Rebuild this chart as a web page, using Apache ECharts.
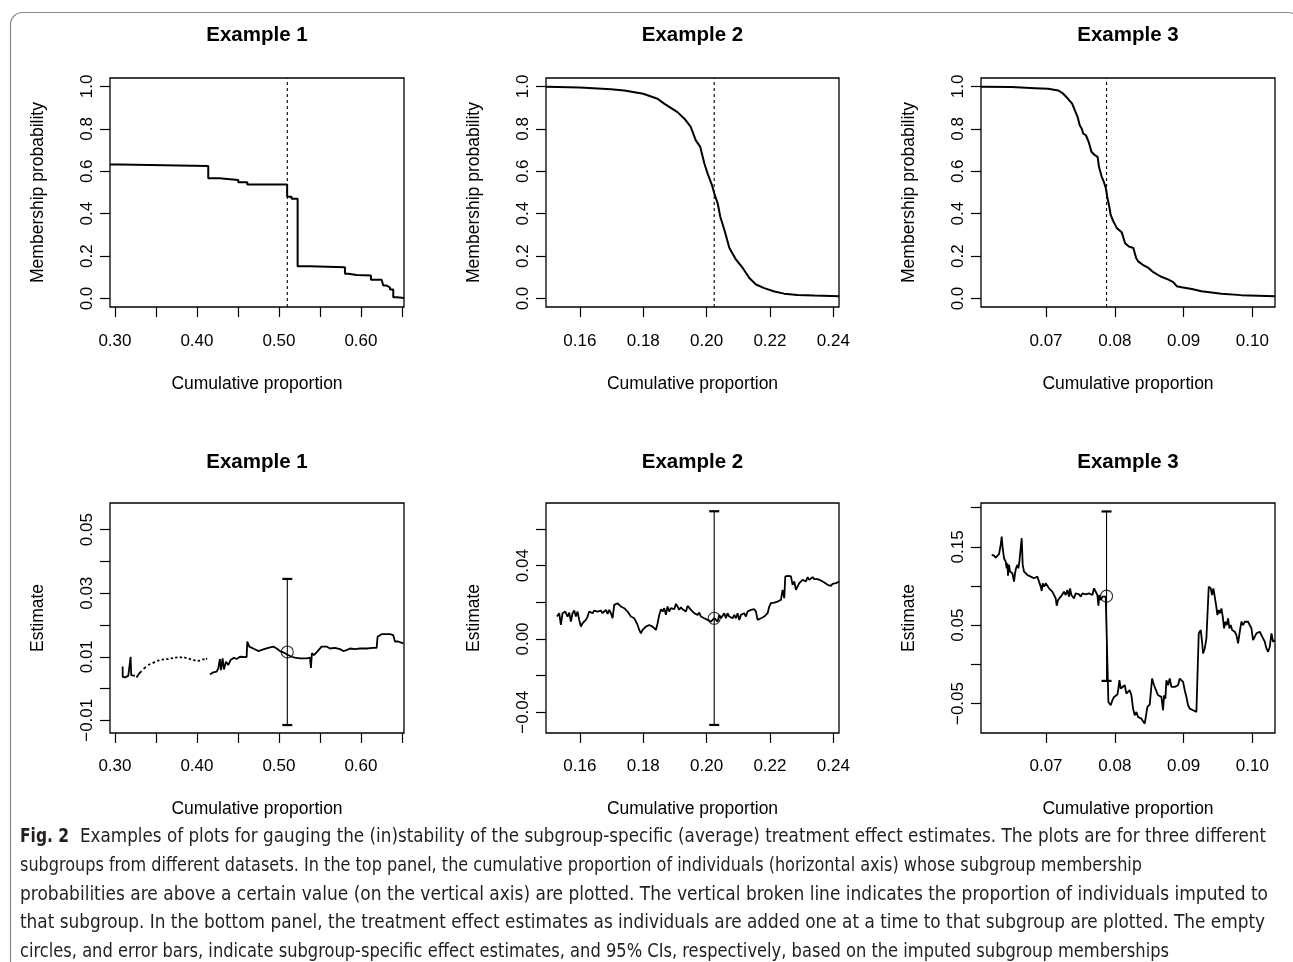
<!DOCTYPE html>
<html><head><meta charset="utf-8">
<script src="https://cdn.jsdelivr.net/npm/echarts@6/dist/echarts.min.js"></script>
<style>html,body{margin:0;padding:0;background:#fff}#c{width:1293px;height:962px}</style>
</head><body><div id="c"></div>
<script>
// ---------------- DATA ----------------
const panelTitles = ['Example 1', 'Example 2', 'Example 3'];
const xAxisTitle = 'Cumulative proportion';
const topYTitle = 'Membership probability';
const bottomYTitle = 'Estimate';

// Top row: membership probability vs cumulative proportion
const memb1 = [ // step breakpoints (value holds until next x)
  [0.2940,0.632],[0.3061,0.625],[0.4138,0.567],[0.4272,0.559],[0.4504,0.548],[0.4614,0.538],
  [0.5100,0.480],[0.5154,0.470],[0.5228,0.152],[0.5378,0.147],[0.5805,0.117],[0.5846,0.111],
  [0.5947,0.108],[0.6122,0.089],[0.6252,0.085],[0.6272,0.061],[0.6313,0.053],[0.6354,0.042],
  [0.6394,0.006],[0.6435,0.002],[0.6528,0.002]
];
const memb2X = [0.1493,0.1600,0.1698,0.1740,0.1800,0.1845,0.1866,0.1908,0.1930,0.1950,0.1966,0.1980,0.1993,0.2003,0.2017,0.2024,0.2035,0.2043,0.2056,0.2072,0.2093,0.2114,0.2135,0.2156,0.2182,0.2214,0.2245,0.2287,0.2340,0.2419];
const memb2Y = [0.999,0.995,0.987,0.981,0.966,0.942,0.919,0.879,0.848,0.809,0.746,0.715,0.637,0.590,0.535,0.496,0.449,0.387,0.324,0.238,0.183,0.144,0.097,0.066,0.049,0.033,0.023,0.017,0.014,0.011];
const memb3X = [0.06055,0.0650,0.0684,0.0703,0.0718,0.0725,0.0732,0.0738,0.0742,0.0746,0.0749,0.0752,0.0754,0.0758,0.0762,0.0766,0.0771,0.0775,0.0777,0.0781,0.0784,0.0787,0.0789,0.0792,0.0794,0.0798,0.0803,0.0810,0.0815,0.0820,0.0827,0.0831,0.0834,0.0842,0.0849,0.0856,0.0866,0.0878,0.0885,0.0890,0.0897,0.0912,0.0926,0.0955,0.0984,0.1033];
const memb3Y = [0.999,0.997,0.992,0.989,0.981,0.966,0.942,0.919,0.887,0.856,0.817,0.801,0.778,0.770,0.739,0.692,0.676,0.668,0.621,0.574,0.551,0.520,0.480,0.433,0.394,0.363,0.332,0.313,0.261,0.246,0.238,0.191,0.175,0.156,0.144,0.124,0.105,0.089,0.077,0.058,0.053,0.045,0.034,0.023,0.016,0.011];
const imputedProportion = [0.5102, 0.2024, 0.0788];

// Bottom row: running treatment effect estimates (null = missing, gap in line)
const estimate1 = [
  [0.3094,0.0069],[0.3095,0.0037],[0.3122,0.0035],[0.3163,0.0040],[0.3183,0.0037],[0.3191,0.0100],[0.3199,0.0042],[0.3215,0.0037],[0.3244,0.0040],[0.3254,null],
  [0.3264,0.0035],[0.3297,0.0048],[0.3325,0.0055],[0.3337,null],
  [0.3350,0.0062],[0.3378,0.0068],[0.3391,null],[0.3405,0.0074],[0.3432,0.0077],[0.3446,null],
  [0.3460,0.0080],[0.3488,0.0084],[0.3501,null],[0.3515,0.0087],[0.3543,0.0089],[0.3556,null],
  [0.3570,0.0092],[0.3598,0.0091],[0.3611,null],[0.3625,0.0093],[0.3653,0.0092],[0.3666,null],
  [0.3680,0.0095],[0.3708,0.0096],[0.3721,null],[0.3735,0.0097],[0.3763,0.0098],[0.3776,null],
  [0.3790,0.0099],[0.3818,0.0097],[0.3831,null],[0.3845,0.0098],[0.3873,0.0096],[0.3886,null],
  [0.3900,0.0094],[0.3928,0.0092],[0.3941,null],[0.3955,0.0090],[0.3983,0.0088],[0.3996,null],
  [0.4010,0.0087],[0.4038,0.0088],[0.4051,null],[0.4065,0.0092],[0.4093,0.0092],[0.4101,null],
  [0.4110,0.0093],[0.4125,0.0094],[0.4140,null],
  [0.4159,0.0044],[0.4199,0.0051],[0.4240,0.0053],[0.4260,0.0063],[0.4280,0.0093],[0.4293,0.0058],[0.4313,0.0095],[0.4329,0.0060],
  [0.4354,0.0084],[0.4382,0.0074],[0.4411,0.0090],[0.4451,0.0097],[0.4484,0.0093],[0.4524,0.0100],[0.4606,0.0099],[0.4614,0.0148],
  [0.4638,0.0132],[0.4687,0.0126],[0.4748,0.0118],[0.4809,0.0123],[0.4870,0.0128],[0.4931,0.0132],[0.4972,0.0126],[0.5012,0.0118],
  [0.5053,0.0114],[0.5094,0.0108],[0.5154,0.0100],[0.5195,0.0097],[0.5256,0.0095],[0.5337,0.0095],[0.5378,0.0097],[0.5390,0.0065],
  [0.5402,0.0111],[0.5427,0.0105],[0.5459,0.0114],[0.5520,0.0132],[0.5581,0.0132],[0.5622,0.0126],[0.5683,0.0128],[0.5744,0.0124],
  [0.5785,0.0118],[0.5825,0.0121],[0.5866,0.0126],[0.5927,0.0124],[0.5988,0.0126],[0.6069,0.0126],[0.6150,0.0128],[0.6191,0.0128],
  [0.6203,0.0163],[0.6252,0.0171],[0.6354,0.0171],[0.6394,0.0168],[0.6415,0.0148],[0.6455,0.0148],[0.6476,0.0142],[0.6516,0.0142]
];
const estimate2 = [
  [0.15274,0.01223],[0.15347,0.01405],[0.15400,0.00766],[0.15453,0.01405],[0.15537,0.01496],[0.15610,0.01223],[0.15663,0.01442],[0.15716,0.00949],
  [0.15768,0.01405],[0.15821,0.01551],[0.15874,0.01223],[0.15926,0.01496],[0.15979,0.01040],[0.16031,0.00675],[0.16084,0.00858],[0.16137,0.00766],
  [0.16189,0.01040],[0.16242,0.01223],[0.16295,0.01496],[0.16347,0.01587],[0.16400,0.01405],[0.16453,0.01551],[0.16505,0.01442],[0.16558,0.01496],
  [0.16610,0.01405],[0.16663,0.01551],[0.16716,0.01405],[0.16768,0.01496],[0.16821,0.01587],[0.16874,0.01369],[0.16926,0.01587],[0.16979,0.01405],
  [0.17031,0.01131],[0.17084,0.01861],[0.17137,0.01953],[0.17189,0.01953],[0.17242,0.01861],[0.17295,0.01770],[0.17347,0.01734],[0.17400,0.01679],
  [0.17453,0.01587],[0.17505,0.01496],[0.17558,0.01405],[0.17610,0.01223],[0.17663,0.01259],[0.17716,0.01131],[0.17768,0.01040],[0.17821,0.00766],
  [0.17874,0.00493],[0.17926,0.00310],[0.17979,0.00493],[0.18031,0.00584],[0.18084,0.00675],[0.18137,0.00584],[0.18189,0.00766],[0.18242,0.00858],
  [0.18295,0.00675],[0.18347,0.00584],[0.18400,0.00493],[0.18453,0.00858],[0.18505,0.01314],[0.18558,0.01624],[0.18610,0.01496],[0.18663,0.01679],
  [0.18716,0.01314],[0.18768,0.01770],[0.18821,0.01496],[0.18874,0.01679],[0.18926,0.01770],[0.18979,0.01624],[0.19031,0.01916],[0.19084,0.01770],
  [0.19137,0.01587],[0.19189,0.01734],[0.19242,0.01624],[0.19295,0.01679],[0.19347,0.01496],[0.19400,0.01806],[0.19453,0.01734],[0.19505,0.01587],
  [0.19558,0.01551],[0.19610,0.01405],[0.19663,0.01496],[0.19716,0.01314],[0.19768,0.01442],[0.19821,0.01223],[0.19874,0.01314],[0.19926,0.01131],
  [0.19979,0.01186],[0.20031,0.01040],[0.20084,0.01131],[0.20137,0.00949],[0.20189,0.01040],[0.20242,0.01131],[0.20295,0.01223],[0.20347,0.00949],
  [0.20400,0.01314],[0.20453,0.01131],[0.20505,0.01223],[0.20558,0.01405],[0.20610,0.01131],[0.20663,0.01405],[0.20716,0.01223],[0.20768,0.01314],
  [0.20821,0.01131],[0.20874,0.01314],[0.20926,0.01131],[0.20979,0.01405],[0.21031,0.01040],[0.21084,0.01314],[0.21137,0.01223],[0.21189,0.01405],
  [0.21242,0.01223],[0.21295,0.01496],[0.21347,0.01442],[0.21400,0.01587],[0.21452,0.01496],[0.21505,0.01624],[0.21558,0.01496],[0.21610,0.01040],
  [0.21663,0.00949],[0.21716,0.01131],[0.21768,0.01131],[0.21821,0.01223],[0.21873,0.01223],[0.21926,0.01405],[0.21979,0.01770],[0.22031,0.01953],
  [0.22084,0.01861],[0.22137,0.01989],[0.22189,0.01953],[0.22242,0.02044],[0.22294,0.01953],[0.22347,0.02135],[0.22400,0.02682],[0.22452,0.02226],
  [0.22484,0.03412],[0.22526,0.03321],[0.22589,0.03449],[0.22663,0.03412],[0.22715,0.02956],[0.22768,0.03139],[0.22821,0.02682],[0.22873,0.02865],
  [0.22926,0.03047],[0.22979,0.02956],[0.23031,0.03230],[0.23084,0.03266],[0.23136,0.03139],[0.23189,0.03376],[0.23242,0.03230],[0.23294,0.03321],
  [0.23347,0.03376],[0.23400,0.03266],[0.23452,0.03321],[0.23505,0.03266],[0.23557,0.03230],[0.23610,0.03193],[0.23663,0.03139],[0.23715,0.03084],
  [0.23768,0.03047],[0.23821,0.02956],[0.23873,0.02865],[0.23926,0.02901],[0.23978,0.03011],[0.24031,0.02956],[0.24084,0.03047],[0.24136,0.03084],
  [0.24189,0.03139]
];
const estimate3 = [
  [0.062105,0.13976],[0.062444,0.13891],[0.062686,0.13635],[0.062929,0.13763],[0.063171,0.14061],[0.063413,0.15256],[0.063559,0.16322],[0.063704,0.14829],
  [0.063898,0.13550],[0.063995,0.13763],[0.064140,0.13123],[0.064286,0.12270],[0.064383,0.12910],[0.064480,0.11331],[0.064625,0.12696],[0.064770,0.11843],
  [0.064964,0.12056],[0.065110,0.11630],[0.065352,0.10563],[0.065497,0.11630],[0.065643,0.12270],[0.065837,0.12696],[0.065982,0.12270],[0.066128,0.13123],
  [0.066321,0.14829],[0.066467,0.16109],[0.066612,0.12696],[0.066806,0.11843],[0.067048,0.11843],[0.067291,0.11417],[0.067533,0.11502],[0.067776,0.11203],
  [0.068018,0.10990],[0.068260,0.10990],[0.068503,0.10777],[0.068745,0.11203],[0.068987,0.10563],[0.069230,0.09924],[0.069375,0.09369],[0.069520,0.10350],
  [0.069714,0.09924],[0.069957,0.10350],[0.070199,0.10563],[0.070441,0.09710],[0.070684,0.09924],[0.070926,0.09284],[0.071168,0.09284],[0.071411,0.08430],
  [0.071556,0.07492],[0.071750,0.08217],[0.071944,0.08004],[0.072138,0.08644],[0.072380,0.08857],[0.072622,0.09284],[0.072865,0.08857],[0.073107,0.09497],
  [0.073350,0.08644],[0.073495,0.09710],[0.073689,0.08857],[0.073834,0.09070],[0.074077,0.08430],[0.074319,0.09070],[0.074561,0.08857],[0.074804,0.08943],
  [0.075046,0.08644],[0.075288,0.09070],[0.075531,0.08857],[0.075773,0.08943],[0.076015,0.08943],[0.076258,0.09070],[0.076500,0.08943],[0.076742,0.08857],
  [0.076985,0.09710],[0.077227,0.09924],[0.077470,0.08857],[0.077615,0.07492],[0.077760,0.08857],[0.077954,0.08217],[0.078197,0.08644],[0.078439,0.08430],
  [0.078681,0.08644],[0.078827,0.08430],[0.079069,-0.04793],[0.079408,-0.05220],[0.079651,-0.04580],[0.079893,-0.04154],[0.080135,-0.04282],[0.080378,-0.03855],
  [0.080523,-0.03087],[0.080669,-0.02021],[0.080862,-0.03087],[0.081105,-0.02874],[0.081444,-0.02661],[0.081686,-0.03727],[0.082171,-0.03300],[0.082413,-0.03940],
  [0.082656,-0.05647],[0.082898,-0.06500],[0.083140,-0.06073],[0.083383,-0.06713],[0.083625,-0.06500],[0.083868,-0.06927],[0.084110,-0.06713],[0.084352,-0.07567],
  [0.084595,-0.07780],[0.084740,-0.05433],[0.085079,-0.05135],[0.085419,-0.01807],[0.085709,-0.02661],[0.085903,-0.03087],[0.086146,-0.03300],[0.086291,-0.03940],
  [0.086533,-0.03727],[0.086776,-0.04154],[0.087018,-0.05860],[0.087163,-0.03940],[0.087357,-0.04367],[0.087503,-0.02021],[0.087745,-0.02661],[0.087987,-0.01807],
  [0.088230,-0.02874],[0.088472,-0.03087],[0.088715,-0.02874],[0.088957,-0.03087],[0.089199,-0.02661],[0.089442,-0.01807],[0.089684,-0.01807],[0.089926,-0.02234],
  [0.090169,-0.03300],[0.090411,-0.04154],[0.090653,-0.05220],[0.090896,-0.05647],[0.091138,-0.05647],[0.091380,-0.05860],[0.091623,-0.05732],[0.091865,-0.06073],
  [0.092010,-0.06073],[0.092204,0.03951],[0.092495,0.04378],[0.092689,0.02885],[0.092834,0.01392],[0.093077,0.02032],[0.093319,0.03311],[0.093465,0.03525],
  [0.093658,0.09924],[0.093949,0.09710],[0.094143,0.08857],[0.094337,0.09710],[0.094531,0.09924],[0.094725,0.07577],[0.094919,0.06298],[0.095113,0.06937],
  [0.095306,0.06511],[0.095500,0.07151],[0.095694,0.06084],[0.095888,0.04591],[0.096082,0.05444],[0.096276,0.05018],[0.096470,0.05871],[0.096664,0.04591],
  [0.096857,0.05018],[0.097051,0.04378],[0.097245,0.04378],[0.097439,0.04165],[0.097681,0.03738],[0.097924,0.02672],[0.098166,0.04165],[0.098409,0.05444],
  [0.098651,0.05018],[0.098893,0.05444],[0.099136,0.05231],[0.099378,0.05444],[0.099620,0.05231],[0.099863,0.04591],[0.100105,0.03098],[0.100347,0.02970],
  [0.100590,0.03951],[0.100832,0.04165],[0.101074,0.04165],[0.101317,0.04079],[0.101559,0.03311],[0.101802,0.02885],[0.102044,0.02032],[0.102286,0.01605],
  [0.102529,0.02245],[0.102771,0.03951],[0.103013,0.02885],[0.103256,0.03098]
];
const subgroupEstimate = [0.0115, 0.0113, 0.0871];
const ciLower = [-0.0115, -0.0469, -0.0211];
const ciUpper = [0.0345, 0.0697, 0.1952];

// Tick marks and tick labels
const xTicks = [[0.30,0.35,0.40,0.45,0.50,0.55,0.60,0.65],[0.16,0.18,0.20,0.22,0.24],[0.07,0.08,0.09,0.10]];
const xTickLabels = [[0.30,0.40,0.50,0.60],[0.16,0.18,0.20,0.22,0.24],[0.07,0.08,0.09,0.10]];
const topYTicks = [0,0.2,0.4,0.6,0.8,1.0];
const bottomYTicks = [[-0.01,0,0.01,0.02,0.03,0.04,0.05],[-0.04,-0.02,0,0.02,0.04,0.06],[-0.05,0,0.05,0.10,0.15,0.20]];
const bottomYTickLabels = [[-0.01,0.01,0.03,0.05],[-0.04,0,0.04],[-0.05,0.05,0.15]];

const captionBoldLabel = 'Fig. 2';
const captionLines = [
  'Examples of plots for gauging the (in)stability of the subgroup-specific (average) treatment effect estimates. The plots are for three different',
  'subgroups from different datasets. In the top panel, the cumulative proportion of individuals (horizontal axis) whose subgroup membership',
  'probabilities are above a certain value (on the vertical axis) are plotted. The vertical broken line indicates the proportion of individuals imputed to',
  'that subgroup. In the bottom panel, the treatment effect estimates as individuals are added one at a time to that subgroup are plotted. The empty',
  'circles, and error bars, indicate subgroup-specific effect estimates, and 95% CIs, respectively, based on the imputed subgroup memberships'
];

// ---------------- LAYOUT ----------------
const gridBoxes = [
  {left:110, top:78, width:294, height:229},
  {left:546, top:78, width:293, height:229},
  {left:981, top:78, width:294, height:229},
  {left:110, top:503, width:294, height:230},
  {left:546, top:503, width:293, height:230},
  {left:981, top:503, width:294, height:230}
];
const xRanges = [[0.294,0.6525],[0.1493,0.2418],[0.06055,0.10329]];
const topYRange = [-0.04, 1.04];
const bottomYRanges = [[-0.014,0.0584],[-0.0513,0.0742],[-0.0876,0.206]];
const titleY = [35, 462];
const captionY = [837, 866, 894.5, 923, 951.5];
const captionX = 20, boldRight = 69, firstLineStart = 80;
const captionRight = [1266, 1142, 1268, 1265, 1169];

const plotFont = '"Liberation Sans", Arial, sans-serif';
const captionFamily = '"Liberation Sans Narrow", "DejaVu Sans Condensed", "Liberation Sans", sans-serif';
const fmt = d => v => (v < 0 ? '\u2212' : '') + Math.abs(v).toFixed(d);
const zip = (xs, ys) => xs.map((x, i) => [x, ys[i]]);
const gapped = arr => arr.map(p => [p[0], p[1] === null ? '-' : p[1]]);

// ---------------- OPTION ----------------
const grids = gridBoxes.map(b => Object.assign({show:true, borderColor:'#000', borderWidth:1.3, backgroundColor:'transparent', containLabel:false, outerBoundsMode:'none'}, b));
const xAxes = [], yAxes = [];
for (let i = 0; i < 6; i++) {
  const col = i % 3, top = i < 3;
  xAxes.push({
    type:'value', gridIndex:i, position:'bottom', min:xRanges[col][0], max:xRanges[col][1],
    axisLine:{show:false, onZero:false}, splitLine:{show:false},
    axisTick:{show:true, inside:false, length:10, customValues:xTicks[col], lineStyle:{color:'#000', width:1.2}},
    axisLabel:{show:true, customValues:xTickLabels[col], formatter:fmt(2), margin: top ? 26 : 25, color:'#000', fontSize:17, fontFamily:plotFont},
    name:xAxisTitle, nameLocation:'middle', nameGap: top ? 68 : 67,
    nameTextStyle:{color:'#000', fontSize:17.5, fontFamily:plotFont}
  });
  yAxes.push({
    type:'value', gridIndex:i, position:'left',
    min: top ? topYRange[0] : bottomYRanges[col][0], max: top ? topYRange[1] : bottomYRanges[col][1],
    axisLine:{show:false, onZero:false}, splitLine:{show:false},
    axisTick:{show:true, inside:false, length:10, customValues: top ? topYTicks : bottomYTicks[col], lineStyle:{color:'#000', width:1.2}},
    axisLabel:{show:true, customValues: top ? topYTicks : bottomYTickLabels[col], formatter: fmt(top ? 1 : 2), rotate:90, margin:14, color:'#000', fontSize:17, fontFamily:plotFont},
    name: top ? topYTitle : bottomYTitle, nameLocation:'middle', nameGap:63,
    nameTextStyle:{color:'#000', fontSize:17.5, fontFamily:plotFont}
  });
}

const curveStyle = {color:'#000', width:2};
const series = [];
const topCurves = [memb1, zip(memb2X, memb2Y), zip(memb3X, memb3Y)];
topCurves.forEach((d, col) => {
  series.push({type:'line', xAxisIndex:col, yAxisIndex:col, data:d, step: col === 0 ? 'end' : false,
    symbol:'none', lineStyle:curveStyle, silent:true});
  series.push({type:'line', xAxisIndex:col, yAxisIndex:col, data:[[imputedProportion[col], topYRange[0]], [imputedProportion[col], topYRange[1]]],
    symbol:'none', lineStyle:{color:'#000', width:1.1, type:[3,3]}, silent:true});
});
const bottomCurves = [estimate1, estimate2, estimate3];
bottomCurves.forEach((d, col) => {
  const ai = col + 3;
  series.push({type:'line', xAxisIndex:ai, yAxisIndex:ai, data:gapped(d), connectNulls:false,
    symbol:'none', lineStyle:{color:'#000', width:1.8}, silent:true});
  series.push({type:'custom', xAxisIndex:ai, yAxisIndex:ai, silent:true,
    data:[[imputedProportion[col], ciLower[col], ciUpper[col]]],
    encode:{x:0, y:[1,2]},
    renderItem:(params, api) => {
      const x = api.value(0);
      const lo = api.coord([x, api.value(1)]), hi = api.coord([x, api.value(2)]);
      const hw = 5;
      return {type:'group', children:[
        {type:'line', shape:{x1:lo[0], y1:lo[1], x2:hi[0], y2:hi[1]}, style:{stroke:'#000', lineWidth:1.1}},
        {type:'line', shape:{x1:lo[0]-hw, y1:lo[1], x2:lo[0]+hw, y2:lo[1]}, style:{stroke:'#000', lineWidth:2.2}},
        {type:'line', shape:{x1:hi[0]-hw, y1:hi[1], x2:hi[0]+hw, y2:hi[1]}, style:{stroke:'#000', lineWidth:2.2}}
      ]};
    }});
  series.push({type:'scatter', xAxisIndex:ai, yAxisIndex:ai, silent:true,
    data:[[imputedProportion[col], subgroupEstimate[col]]], symbol:'circle', symbolSize:12,
    itemStyle:{color:'transparent', borderColor:'#000', borderWidth:1.1}, z:5});
});

// titles + caption as graphic text
const measureCtx = document.createElement('canvas').getContext('2d');
function textWidth(t, font) { measureCtx.font = font; return measureCtx.measureText(t).width; }
const graphics = [];
graphics.push({type:'rect', shape:{x:10.5, y:12.5, width:1290, height:1000, r:12}, style:{fill:'none', stroke:'#8a8a8a', lineWidth:1.2}, silent:true});
for (let i = 0; i < 6; i++) {
  const b = gridBoxes[i];
  graphics.push({type:'text', x: b.left + b.width / 2, y: titleY[i < 3 ? 0 : 1], silent:true,
    style:{text: panelTitles[i % 3], font:'bold 20.5px ' + plotFont, fill:'#000', align:'center', verticalAlign:'middle'}});
}
const capFont = '20px ' + captionFamily, capBold = 'bold 20px ' + captionFamily;
const bw = textWidth(captionBoldLabel, capBold);
graphics.push({type:'text', x:captionX, y:captionY[0], scaleX:(boldRight - captionX) / bw, silent:true,
  style:{text:captionBoldLabel, font:capBold, fill:'#231f20', align:'left', verticalAlign:'middle'}});
captionLines.forEach((t, i) => {
  const x0 = i === 0 ? firstLineStart : captionX;
  const w = textWidth(t, capFont);
  graphics.push({type:'text', x:x0, y:captionY[i], scaleX:(captionRight[i] - x0) / w, silent:true,
    style:{text:t, font:capFont, fill:'#231f20', align:'left', verticalAlign:'middle'}});
});

const chart = echarts.init(document.getElementById('c'), null, {renderer:'canvas'});
chart.setOption({
  animation:false, backgroundColor:'#fff',
  grid:grids, xAxis:xAxes, yAxis:yAxes, series:series, graphic:graphics
});
</script>
</body></html>
